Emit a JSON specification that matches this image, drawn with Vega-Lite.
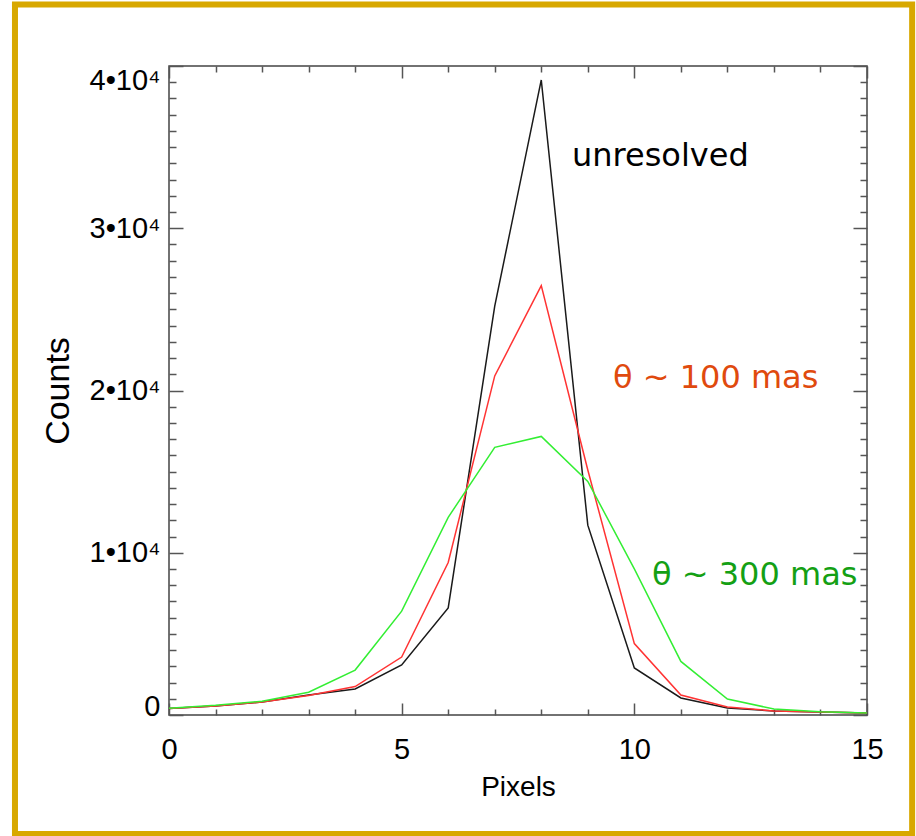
{
  "$schema": "https://vega.github.io/schema/vega-lite/v6.json",
  "width": 698,
  "height": 649,
  "autosize": "none",
  "padding": {"left": 169, "top": 66, "right": 49, "bottom": 121},
  "background": "white",
  "config": {
    "view": {"stroke": "#444444", "strokeWidth": 1.5},
    "axis": {"labelFont": "Liberation Sans", "titleFont": "Liberation Sans", "labelColor": "black", "titleColor": "black", "titleFontWeight": "normal", "grid": false, "domain": false}
  },
  "datasets": {
    "profiles": [
      {"px": 0, "series": "unresolved", "counts": 400},
      {"px": 1, "series": "unresolved", "counts": 550},
      {"px": 2, "series": "unresolved", "counts": 800},
      {"px": 3, "series": "unresolved", "counts": 1230},
      {"px": 4, "series": "unresolved", "counts": 1600},
      {"px": 5, "series": "unresolved", "counts": 3080},
      {"px": 6, "series": "unresolved", "counts": 6600},
      {"px": 7, "series": "unresolved", "counts": 25200},
      {"px": 8, "series": "unresolved", "counts": 39140},
      {"px": 9, "series": "unresolved", "counts": 11700},
      {"px": 10, "series": "unresolved", "counts": 2900},
      {"px": 11, "series": "unresolved", "counts": 1050},
      {"px": 12, "series": "unresolved", "counts": 430},
      {"px": 13, "series": "unresolved", "counts": 250},
      {"px": 14, "series": "unresolved", "counts": 180},
      {"px": 15, "series": "unresolved", "counts": 120},
      {"px": 0, "series": "100 mas", "counts": 400},
      {"px": 1, "series": "100 mas", "counts": 550},
      {"px": 2, "series": "100 mas", "counts": 800},
      {"px": 3, "series": "100 mas", "counts": 1200},
      {"px": 4, "series": "100 mas", "counts": 1750},
      {"px": 5, "series": "100 mas", "counts": 3570},
      {"px": 6, "series": "100 mas", "counts": 9400},
      {"px": 7, "series": "100 mas", "counts": 20900},
      {"px": 8, "series": "100 mas", "counts": 26460},
      {"px": 9, "series": "100 mas", "counts": 15100},
      {"px": 10, "series": "100 mas", "counts": 4400},
      {"px": 11, "series": "100 mas", "counts": 1230},
      {"px": 12, "series": "100 mas", "counts": 500},
      {"px": 13, "series": "100 mas", "counts": 250},
      {"px": 14, "series": "100 mas", "counts": 180},
      {"px": 15, "series": "100 mas", "counts": 120},
      {"px": 0, "series": "300 mas", "counts": 420},
      {"px": 1, "series": "300 mas", "counts": 600},
      {"px": 2, "series": "300 mas", "counts": 850},
      {"px": 3, "series": "300 mas", "counts": 1400},
      {"px": 4, "series": "300 mas", "counts": 2770},
      {"px": 5, "series": "300 mas", "counts": 6400},
      {"px": 6, "series": "300 mas", "counts": 12180},
      {"px": 7, "series": "300 mas", "counts": 16500},
      {"px": 8, "series": "300 mas", "counts": 17170},
      {"px": 9, "series": "300 mas", "counts": 14400},
      {"px": 10, "series": "300 mas", "counts": 9000},
      {"px": 11, "series": "300 mas", "counts": 3300},
      {"px": 12, "series": "300 mas", "counts": 980},
      {"px": 13, "series": "300 mas", "counts": 370},
      {"px": 14, "series": "300 mas", "counts": 200},
      {"px": 15, "series": "300 mas", "counts": 130}
    ],
    "labels": [
      {"label": "unresolved", "px": 8.66, "counts": 33850},
      {"label": "θ ~ 100 mas", "px": 9.54, "counts": 20150},
      {"label": "θ ~ 300 mas", "px": 10.38, "counts": 8010}
    ],
    "frame": [
      {"x0": -3.31, "x1": 15.97, "y0": -7334, "y1": 43790}
    ]
  },
  "layer": [
    {
      "data": {"name": "frame"},
      "mark": {"type": "rect", "fill": null, "stroke": "#d8a800", "strokeWidth": 6, "clip": false},
      "encoding": {
        "x": {"field": "x0", "type": "quantitative", "scale": {"domain": [0, 15], "nice": false, "zero": false},
          "axis": {"orient": "bottom", "values": [0,1,2,3,4,5,6,7,8,9,10,11,12,13,14,15], "labels": false, "title": null, "tickColor": "#555555", "tickWidth": 1.5,
            "tickSize": {"condition": {"test": "datum.value % 5 === 0", "value": -12}, "value": -6}}},
        "x2": {"field": "x1"},
        "y": {"field": "y0", "type": "quantitative", "scale": {"domain": [0, 40000], "nice": false, "zero": false},
          "axis": {"orient": "left", "values": [0,1000,2000,3000,4000,5000,6000,7000,8000,9000,10000,11000,12000,13000,14000,15000,16000,17000,18000,19000,20000,21000,22000,23000,24000,25000,26000,27000,28000,29000,30000,31000,32000,33000,34000,35000,36000,37000,38000,39000,40000], "labels": false, "title": null, "tickColor": "#555555", "tickWidth": 1.5,
            "tickSize": {"condition": {"test": "datum.value % 10000 === 0", "value": -14}, "value": -7}}},
        "y2": {"field": "y1"}
      }
    },
    {
      "data": {"name": "profiles"},
      "mark": {"type": "line", "strokeWidth": 1.5},
      "encoding": {
        "x": {"field": "px", "type": "quantitative",
          "axis": {"orient": "bottom", "values": [0, 5, 10, 15], "ticks": false, "labelFontSize": 29, "labelPadding": 20, "labelFlush": false, "title": "Pixels", "titleFontSize": 28, "titlePadding": 9}},
        "y": {"field": "counts", "type": "quantitative",
          "axis": {"orient": "left", "values": [0, 10000, 20000, 30000, 40000], "ticks": false, "labelFontSize": 29, "labelPadding": 9, "labelFlush": false,
            "labelExpr": "datum.value === 0 ? '0' : format(datum.value / 10000, 'd') + '•10⁴'",
            "labelBaseline": {"condition": [{"test": "datum.value === 40000", "value": "top"}, {"test": "datum.value === 0", "value": "alphabetic"}], "value": "middle"},
            "title": "Counts", "titleFontSize": 34, "titlePadding": 14}},
        "color": {"field": "series", "type": "nominal", "legend": null,
          "scale": {"domain": ["unresolved", "100 mas", "300 mas"], "range": ["#1a1a1a", "#ff3333", "#33ee33"]}},
        "order": {"field": "px"}
      }
    },
    {
      "data": {"name": "labels"},
      "mark": {"type": "text", "align": "left", "baseline": "alphabetic", "font": "DejaVu Sans", "fontSize": 32},
      "encoding": {
        "x": {"field": "px", "type": "quantitative",
          "axis": {"orient": "top", "values": [0,1,2,3,4,5,6,7,8,9,10,11,12,13,14,15], "labels": false, "title": null, "tickColor": "#555555", "tickWidth": 1.5,
            "tickSize": {"condition": {"test": "datum.value % 5 === 0", "value": -12}, "value": -6}}},
        "y": {"field": "counts", "type": "quantitative",
          "axis": {"orient": "right", "values": [0,1000,2000,3000,4000,5000,6000,7000,8000,9000,10000,11000,12000,13000,14000,15000,16000,17000,18000,19000,20000,21000,22000,23000,24000,25000,26000,27000,28000,29000,30000,31000,32000,33000,34000,35000,36000,37000,38000,39000,40000], "labels": false, "title": null, "tickColor": "#555555", "tickWidth": 1.5,
            "tickSize": {"condition": {"test": "datum.value % 10000 === 0", "value": -14}, "value": -7}}},
        "text": {"field": "label"},
        "color": {"field": "label", "type": "nominal", "legend": null,
          "scale": {"domain": ["unresolved", "θ ~ 100 mas", "θ ~ 300 mas"], "range": ["#000000", "#e04a0e", "#14a014"]}}
      }
    }
  ],
  "resolve": {"axis": {"x": "independent", "y": "independent"}, "scale": {"color": "independent"}}
}
